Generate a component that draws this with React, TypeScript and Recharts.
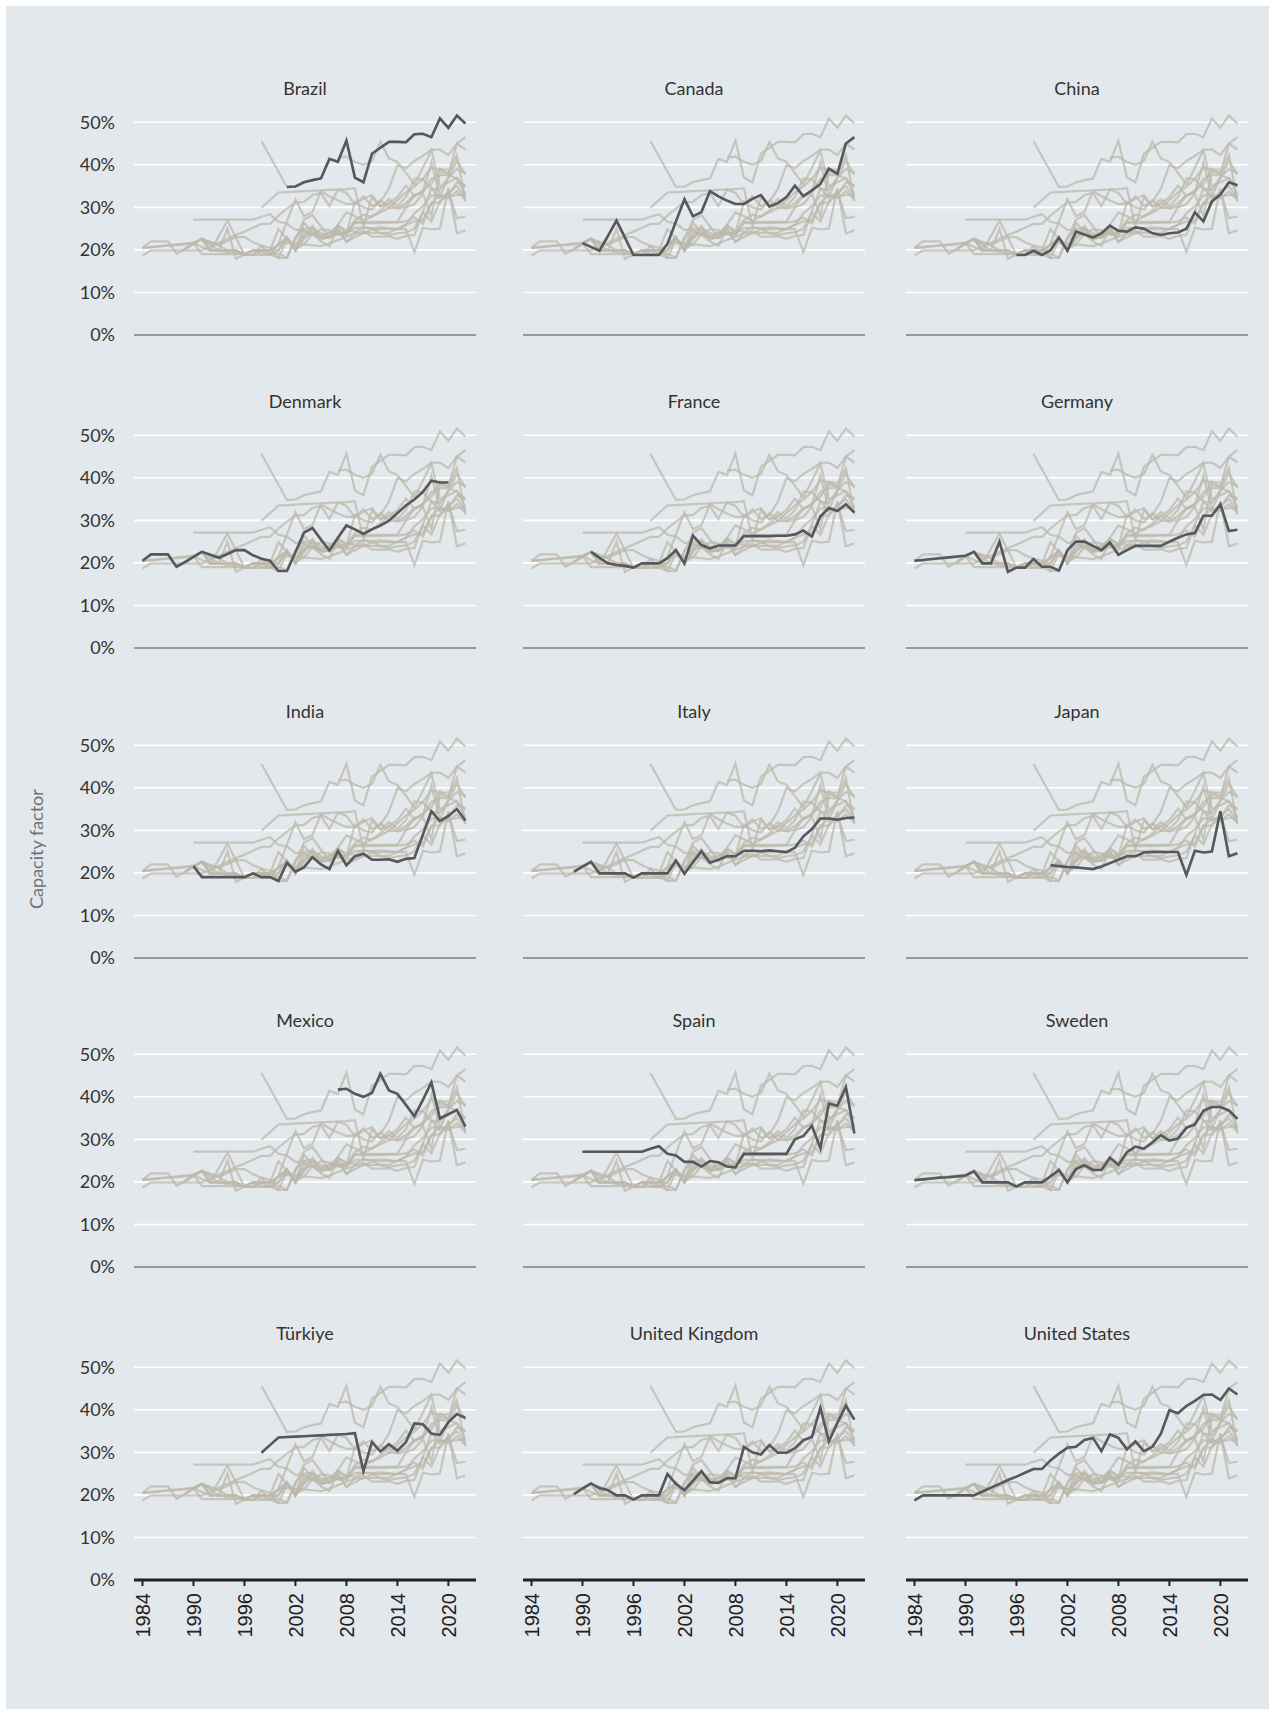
import React from "react";
import { LineChart, Line, XAxis, YAxis, CartesianGrid, ReferenceLine } from "recharts";

const years = [
  1984, 1985, 1986, 1987, 1988, 1989, 1990, 1991, 1992, 1993, 1994, 1995, 1996,
  1997, 1998, 1999, 2000, 2001, 2002, 2003, 2004, 2005, 2006, 2007, 2008, 2009,
  2010, 2011, 2012, 2013, 2014, 2015, 2016, 2017, 2018, 2019, 2020, 2021, 2022,
];

const countries = [
  "Brazil", "Canada", "China",
  "Denmark", "France", "Germany",
  "India", "Italy", "Japan",
  "Mexico", "Spain", "Sweden",
  "Türkiye", "United Kingdom", "United States",
];

// capacity factor, % (1984..2022)
const brazil = [
  null, null, null, null, null, null, null, null, null, null, null, null, null, null,
  45.6, null, null, 34.8, 34.9, 35.9, 36.4, 36.8, 41.4, 40.7, 45.7, 37.0, 35.9, 42.6,
  44.0, 45.4, 45.4, 45.3, 47.2, 47.3, 46.5, 50.9, 48.7, 51.6, 49.7,
];
const canada = [
  null, null, null, null, null, null, 21.6, 20.7, 19.8, 23.3, 26.9, 22.9, 18.8,
  18.8, 18.8, 18.8, 21.4, 26.7, 31.9, 27.9, 28.9, 33.8, 32.6, 31.6, 30.8, 30.8,
  32.0, 32.9, 30.2, 31.0, 32.4, 35.1, 32.6, 34.0, 35.5, 39.1, 37.9, 45.0, 46.5,
];
const china = [
  null, null, null, null, null, null, null, null, null, null, null, null, 18.8,
  18.8, 19.8, 18.8, 19.9, 22.9, 19.8, 24.3, 23.6, 22.9, 23.9, 25.7, 24.5, 24.3,
  25.3, 25.0, 23.9, 23.5, 23.9, 24.1, 25.0, 28.8, 26.7, 31.4, 33.0, 35.9, 35.2,
];
const denmark = [
  20.5, 22.0, 22.0, 22.0, 19.1, 20.2, 21.4, 22.6, 21.9, 21.2, 22.1, 23.0, 23.0,
  21.8, 21.0, 20.5, 18.1, 18.1, 22.5, 27.1, 28.2, 25.5, 22.9, 25.9, 28.8, 27.9,
  26.8, 27.9, 28.8, 29.9, 31.7, 33.5, 34.9, 36.7, 39.3, 38.9, 38.9, null, null,
];
const france = [
  null, null, null, null, null, null, null, 22.6, 21.2, 19.9, 19.5, 19.3, 18.9,
  19.9, 19.9, 19.9, 21.1, 23.0, 19.9, 26.4, 24.2, 23.4, 24.1, 24.1, 24.1, 26.3,
  26.3, 26.3, 26.3, 26.4, 26.4, 26.7, 27.6, 26.2, 30.9, 32.9, 32.2, 33.8, 31.8,
];
const germany = [
  20.5, 20.7, 20.9, 21.1, 21.3, 21.5, 21.7, 22.6, 19.9, 19.9, 25.0, 17.9, 18.9,
  18.9, 20.9, 19.1, 19.1, 18.2, 23.0, 25.0, 25.0, 24.0, 23.0, 24.8, 21.9, 23.0,
  24.0, 24.0, 24.0, 24.0, 25.0, 25.9, 26.7, 27.0, 31.1, 31.1, 33.8, 27.5, 27.8,
];
const india = [
  null, null, null, null, null, null, 21.6, 19.0, 19.0, 19.0, 19.0, 19.0, 19.0,
  19.9, 19.0, 19.0, 18.1, 22.4, 20.3, 21.3, 23.7, 22.0, 20.9, 25.2, 21.8, 23.9,
  24.5, 23.1, 23.1, 23.2, 22.6, 23.3, 23.5, 29.0, 34.5, 32.2, 33.4, 35.0, 32.3,
];
const italy = [
  null, null, null, null, null, 20.3, 21.5, 22.6, 19.9, 19.9, 19.9, 19.9, 18.9,
  19.9, 19.9, 19.9, 19.9, 22.9, 19.8, 22.5, 25.1, 22.4, 23.1, 23.9, 23.9, 25.2,
  25.2, 25.1, 25.3, 25.1, 24.9, 25.9, 28.6, 30.3, 32.8, 32.8, 32.5, 32.9, 33.0,
];
const japan = [
  null, null, null, null, null, null, null, null, null, null, null, null, null,
  null, null, null, 21.8, 21.6, 21.4, 21.3, 21.1, 20.9, 21.5, 22.3, 23.1, 23.9,
  23.9, 24.8, 24.9, 24.9, 24.9, 24.9, 19.5, 25.2, 24.8, 25.0, 34.5, 23.9, 24.6,
];
const mexico = [
  null, null, null, null, null, null, null, null, null, null, null, null, null,
  null, null, null, null, null, null, null, null, null, null, 41.7, 41.9, 40.7,
  40.0, 40.9, 45.4, 41.5, 40.7, 38.1, 35.4, 39.3, 43.4, 34.9, 35.9, 36.9, 33.0,
];
const spain = [
  null, null, null, null, null, null, 27.1, 27.1, 27.1, 27.1, 27.1, 27.1, 27.1,
  27.1, 27.8, 28.4, 26.6, 26.2, 24.7, 24.7, 23.6, 24.9, 24.6, 23.6, 23.4, 26.6,
  26.6, 26.6, 26.6, 26.6, 26.6, 30.0, 30.8, 33.2, 27.9, 38.4, 37.9, 42.3, 31.4,
];
const sweden = [
  20.4, 20.6, 20.8, 21.0, 21.1, 21.3, 21.5, 22.5, 19.9, 19.9, 19.9, 19.9, 18.9,
  19.9, 19.9, 19.9, 21.3, 22.8, 19.9, 23.0, 23.9, 22.8, 22.8, 25.7, 24.0, 27.0,
  28.3, 27.8, 29.3, 31.0, 29.7, 30.2, 32.7, 33.5, 36.7, 37.6, 37.6, 36.8, 34.8,
];
const turkiye = [
  null, null, null, null, null, null, null, null, null, null, null, null, null,
  null, 29.9, 31.7, 33.5, 33.6, 33.7, 33.8, 33.9, 34.0, 34.1, 34.2, 34.3, 34.5,
  25.6, 32.4, 30.2, 31.9, 30.4, 32.4, 36.8, 36.6, 34.4, 34.1, 37.1, 39.0, 38.1,
];
const unitedKingdom = [
  null, null, null, null, null, 20.2, 21.5, 22.7, 21.6, 21.1, 19.9, 19.9, 18.9,
  19.9, 19.9, 19.9, 24.9, 22.6, 21.1, 23.3, 25.6, 23.0, 22.8, 23.9, 23.9, 31.3,
  30.0, 29.5, 31.7, 29.9, 29.9, 31.0, 32.9, 33.6, 40.5, 32.6, 36.9, 41.0, 37.7,
];
const unitedStates = [
  18.7, 19.9, 19.9, 19.9, 19.9, 19.9, 19.9, 19.9, 20.8, 21.7, 22.6, 23.5, 24.3,
  25.2, 26.1, 26.1, 28.1, 29.7, 31.1, 31.3, 32.9, 33.4, 30.3, 34.2, 33.4, 30.7,
  32.6, 30.3, 31.3, 34.4, 39.9, 39.2, 40.9, 42.1, 43.5, 43.6, 42.3, 45.0, 43.6,
];

const seriesByCountry: Record<string, (number | null)[]> = {
  Brazil: brazil,
  Canada: canada,
  China: china,
  Denmark: denmark,
  France: france,
  Germany: germany,
  India: india,
  Italy: italy,
  Japan: japan,
  Mexico: mexico,
  Spain: spain,
  Sweden: sweden,
  "Türkiye": turkiye,
  "United Kingdom": unitedKingdom,
  "United States": unitedStates,
};

const xTicks = [1984, 1990, 1996, 2002, 2008, 2014, 2020];
const yTicks = [0, 10, 20, 30, 40, 50];

const data = years.map((year, i) => {
  const row: Record<string, number | null> = { year };
  countries.forEach((c) => {
    row[c] = seriesByCountry[c][i];
  });
  return row;
});

const BG = "#e3e8ec";
const GREY_LINE = "#bcb8ab";
const DARK_LINE = "#55585c";
const FONT = "Lato, 'Open Sans', sans-serif";

const PLOT_W = 342;
const PLOT_H = 234;
const COL_LEFT = [134, 523, 906];
const ROW_TOP = [101, 414, 724, 1033, 1346];

function YearTick(props: any) {
  const { x, y, payload } = props;
  return (
    <text
      x={x}
      y={y}
      transform={`rotate(-90, ${x}, ${y})`}
      textAnchor="end"
      dy="0.36em"
      fill="#222"
      fontSize={20}
      fontFamily="'Liberation Sans', Arial, sans-serif"
    >
      {payload.value}
    </text>
  );
}

function Panel({ country, index }: { country: string; index: number }) {
  const col = index % 3;
  const row = Math.floor(index / 3);
  const first = col === 0;
  const last = row === 4;
  const yW = first ? 60 : 0;
  const padL = first ? 0 : 20;
  const xH = last ? 70 : 0;
  const left = COL_LEFT[col];
  const top = ROW_TOP[row];

  return (
    <>
      <div
        style={{
          position: "absolute",
          left,
          top: top - 24,
          width: PLOT_W,
          textAlign: "center",
          fontFamily: FONT,
          fontSize: 18,
          lineHeight: "22px",
          color: "#333",
        }}
      >
        {country}
      </div>
      <div style={{ position: "absolute", left: left - yW - padL, top: top - 10 }}>
        <LineChart
          width={PLOT_W + yW + padL + 10}
          height={PLOT_H + xH + 20}
          data={data}
          margin={{ top: 10, right: 10, bottom: 10, left: padL }}
        >
          <CartesianGrid
            vertical={false}
            horizontalValues={[10, 20, 30, 40, 50]}
            stroke="#ffffff"
            strokeWidth={1.6}
          />
          <XAxis
            dataKey="year"
            type="number"
            domain={[1983, 2023.25]}
            allowDataOverflow
            ticks={xTicks}
            hide={!last}
            height={xH}
            interval={0}
            axisLine={{ stroke: "#222", strokeWidth: 3 }}
            tickLine={{ stroke: "#222", strokeWidth: 2 }}
            tickSize={6}
            tickMargin={7}
            tick={<YearTick />}
          />
          <YAxis
            type="number"
            domain={[0, 55]}
            ticks={yTicks}
            interval={0}
            hide={!first}
            width={yW}
            axisLine={false}
            tickLine={false}
            tickMargin={13}
            tickFormatter={(v: number) => `${v}%`}
            tick={{ fill: "#333", fontSize: 18, fontFamily: FONT }}
          />
          {!last && <ReferenceLine y={0} stroke="#7d8084" strokeWidth={1.5} />}
          {countries.map((c) => (
            <Line
              key={`bg-${c}`}
              type="linear"
              dataKey={c}
              stroke={GREY_LINE}
              strokeOpacity={0.75}
              strokeWidth={2.2}
              dot={false}
              activeDot={false}
              connectNulls
              isAnimationActive={false}
            />
          ))}
          <Line
            key={`fg-${country}`}
            type="linear"
            dataKey={country}
            stroke={DARK_LINE}
            strokeWidth={2.6}
            dot={false}
            activeDot={false}
            isAnimationActive={false}
          />
        </LineChart>
      </div>
    </>
  );
}

export default function App() {
  return (
    <div style={{ position: "absolute", left: 0, top: 0, width: 1275, height: 1715, background: "#fff" }}>
      <div style={{ position: "absolute", left: 6, top: 6, width: 1263, height: 1703, background: BG }} />
      <div
        style={{
          position: "absolute",
          left: 36 - 100,
          top: 849 - 11,
          width: 200,
          textAlign: "center",
          transform: "rotate(-90deg)",
          fontFamily: FONT,
          fontSize: 18,
          lineHeight: "22px",
          color: "#6f7377",
        }}
      >
        Capacity factor
      </div>
      {countries.map((c, i) => (
        <Panel key={c} country={c} index={i} />
      ))}
    </div>
  );
}
